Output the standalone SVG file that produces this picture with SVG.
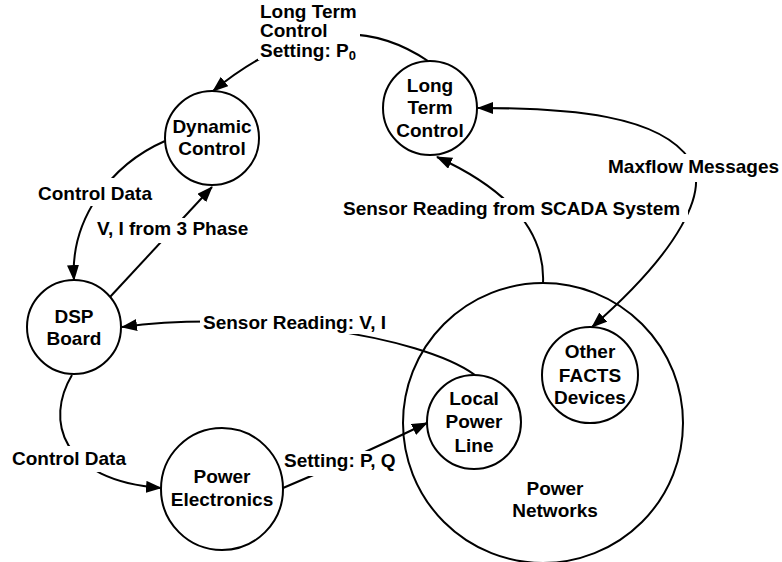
<svg xmlns="http://www.w3.org/2000/svg" width="782" height="562" viewBox="0 0 782 562">
<defs>
<marker id="arr" viewBox="0 0 16 12" refX="15" refY="6" markerWidth="16" markerHeight="12" markerUnits="userSpaceOnUse" orient="auto-start-reverse">
<path d="M0,0 L16,6 L0,12 z" fill="#000"/>
</marker>
<style>
.node circle{fill:#fff;stroke:#000;stroke-width:2}
.bg{fill:none;stroke:#000;stroke-width:2}
text{font-family:"Liberation Sans",Arial,sans-serif;font-weight:bold;font-size:19px;fill:#000}
.c{text-anchor:middle}
.edge{fill:none;stroke:#000;stroke-width:2}
.lbl rect{fill:#fff}
</style>
</defs>
<rect width="782" height="562" fill="#fff"/>

<g id="power-networks">
<circle class="bg" cx="543" cy="423" r="140"/>
<text class="c" x="555" y="495">Power</text>
<text class="c" x="555" y="517">Networks</text>
</g>

<g id="connectors">
<path class="edge" d="M428,61 Q330,-5 213,91" marker-end="url(#arr)"/>
<path class="edge" d="M165,141 C110,165 70,220 74,280" marker-end="url(#arr)"/>
<path class="edge" d="M110,297 L212,187" marker-end="url(#arr)"/>
<path class="edge" d="M475,375 C420,335 250,310 122,327" marker-end="url(#arr)"/>
<path class="edge" d="M72,375 C45,420 60,480 161,488" marker-end="url(#arr)"/>
<path class="edge" d="M283,488 Q350,460 427,423" marker-end="url(#arr)"/>
<path class="edge" d="M543,283 C545,240 520,195 437,157" marker-end="url(#arr)"/>
<path class="edge" d="M478,108 C570,108 660,115 690,160 C710,190 680,250 592,327" marker-start="url(#arr)" marker-end="url(#arr)"/>
</g>

<g id="labels">
<g class="lbl"><rect x="258" y="2" width="102" height="58"/>
<text x="260" y="18">Long Term</text>
<text x="260" y="37">Control</text>
<text x="260" y="57">Setting: P<tspan font-size="13" dy="3">0</tspan></text></g>
<g class="lbl"><rect x="35" y="178" width="122" height="28"/><text x="38" y="200">Control Data</text></g>
<g class="lbl"><rect x="95" y="218" width="160" height="25"/><text x="97" y="235">V, I from 3 Phase</text></g>
<g class="lbl"><rect x="200" y="312" width="195" height="22"/><text x="203" y="329">Sensor Reading: V, I</text></g>
<g class="lbl"><rect x="9" y="446" width="121" height="26"/><text x="12" y="465">Control Data</text></g>
<g class="lbl"><rect x="287" y="451" width="113" height="25"/><text x="284" y="467">Setting: P, Q</text></g>
<g class="lbl"><rect x="340" y="198" width="348" height="24"/><text x="343" y="215">Sensor Reading from SCADA System</text></g>
<g class="lbl"><rect x="605" y="154" width="177" height="28"/><text x="608" y="173">Maxflow Messages</text></g>
</g>

<g id="dynamic-control" class="node">
<circle cx="212" cy="138" r="47"/>
<text class="c" x="212" y="133">Dynamic</text>
<text class="c" x="212" y="155">Control</text>
</g>
<g id="long-term-control" class="node">
<circle cx="430" cy="108" r="47"/>
<text class="c" x="430" y="92">Long</text>
<text class="c" x="430" y="114">Term</text>
<text class="c" x="430" y="137">Control</text>
</g>
<g id="dsp-board" class="node">
<circle cx="74" cy="327" r="47"/>
<text class="c" x="74" y="323">DSP</text>
<text class="c" x="74" y="345">Board</text>
</g>
<g id="power-electronics" class="node">
<circle cx="222" cy="489" r="61"/>
<text class="c" x="222" y="483">Power</text>
<text class="c" x="222" y="506">Electronics</text>
</g>
<g id="local-power-line" class="node">
<circle cx="474" cy="422" r="47"/>
<text class="c" x="474" y="405">Local</text>
<text class="c" x="474" y="428">Power</text>
<text class="c" x="474" y="452">Line</text>
</g>
<g id="other-facts" class="node">
<circle cx="590" cy="375" r="48"/>
<text class="c" x="590" y="358">Other</text>
<text class="c" x="590" y="382">FACTS</text>
<text class="c" x="590" y="404">Devices</text>
</g>
</svg>
